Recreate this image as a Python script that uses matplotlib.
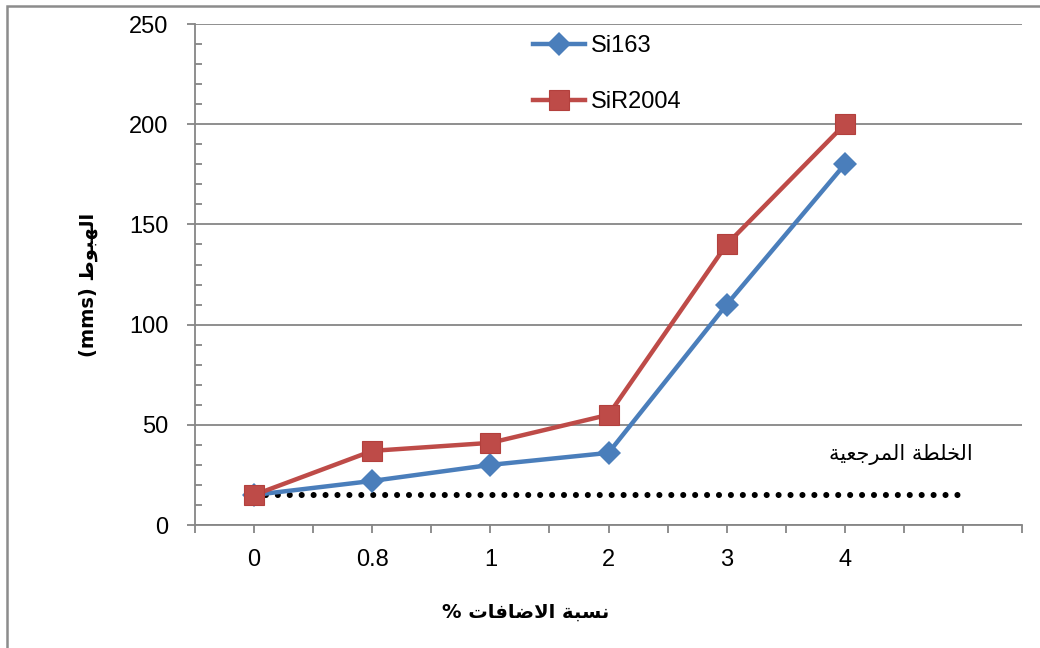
import matplotlib
matplotlib.use("Agg")
import matplotlib.pyplot as plt
from matplotlib.patches import Rectangle
from matplotlib.ticker import MultipleLocator, FixedLocator

# slump (mms) for each admixture percentage
categories = ['0', '0.8', '1', '2', '3', '4', '']
si163 = [15, 22, 30, 36, 110, 180]
sir2004 = [15, 37, 41, 55, 140, 200]
reference_mix = [15, 15, 15, 15, 15, 15, 15]

y_label_ar = 'الهبوط'
y_label_unit = '(mms)'
x_label_ar = 'نسبة الاضافات'
ref_label_ar = 'الخلطة المرجعية'

# arabic contextual forms: isolated, final, initial, medial
AR_FORMS = {
    'ا': ('\ufe8d', '\ufe8e', None, None),
    'ب': ('\ufe8f', '\ufe90', '\ufe91', '\ufe92'),
    'ة': ('\ufe93', '\ufe94', None, None),
    'ت': ('\ufe95', '\ufe96', '\ufe97', '\ufe98'),
    'ج': ('\ufe9d', '\ufe9e', '\ufe9f', '\ufea0'),
    'خ': ('\ufea5', '\ufea6', '\ufea7', '\ufea8'),
    'ر': ('\ufead', '\ufeae', None, None),
    'س': ('\ufeb1', '\ufeb2', '\ufeb3', '\ufeb4'),
    'ض': ('\ufebd', '\ufebe', '\ufebf', '\ufec0'),
    'ط': ('\ufec1', '\ufec2', '\ufec3', '\ufec4'),
    'ع': ('\ufec9', '\ufeca', '\ufecb', '\ufecc'),
    'ف': ('\ufed1', '\ufed2', '\ufed3', '\ufed4'),
    'ل': ('\ufedd', '\ufede', '\ufedf', '\ufee0'),
    'م': ('\ufee1', '\ufee2', '\ufee3', '\ufee4'),
    'ن': ('\ufee5', '\ufee6', '\ufee7', '\ufee8'),
    'ه': ('\ufee9', '\ufeea', '\ufeeb', '\ufeec'),
    'و': ('\ufeed', '\ufeee', None, None),
    'ي': ('\ufef1', '\ufef2', '\ufef3', '\ufef4'),
}


def shape_word(word):
    out = []
    i = 0
    prev_joins = False
    while i < len(word):
        ch = word[i]
        nxt = word[i + 1] if i + 1 < len(word) else None
        if ch == 'ل' and nxt == 'ا':
            out.append('\ufefc' if prev_joins else '\ufefb')
            prev_joins = False
            i += 2
            continue
        forms = AR_FORMS[ch]
        joins_next = forms[2] is not None and nxt in AR_FORMS
        if prev_joins and joins_next:
            g = forms[3]
        elif prev_joins:
            g = forms[1]
        elif joins_next:
            g = forms[2]
        else:
            g = forms[0]
        out.append(g)
        prev_joins = joins_next
        i += 1
    return ''.join(reversed(out))


def ar(text):
    return ' '.join(shape_word(w) for w in reversed(text.split()))


blue = '#4a7ebb'
red = '#be4b48'
gray = '#868686'

fig = plt.figure(figsize=(10.4, 6.48), dpi=100)
ax = fig.add_axes([0.1875, 0.1898, 0.7952, 0.7731])

x = list(range(len(categories)))
ax.plot(x, reference_mix, color='black', lw=4.4, linestyle=(0, (0.001, 1.95)),
        dash_capstyle='round', zorder=2)
ax.plot(x[:len(si163)], si163, color=blue, lw=3.2, marker='D', markersize=12,
        markeredgewidth=0, label='Si163', zorder=3)
ax.plot(x[:len(sir2004)], sir2004, color=red, lw=3.2, marker='s', markersize=14,
        markeredgecolor='#b3403d', markeredgewidth=0.8, label='SiR2004', zorder=4)

ax.set_xlim(-0.5, len(categories) - 0.5)
ax.set_ylim(0, 250)

ax.set_xticks(x)
ax.set_xticklabels(categories, fontsize=17, family='Liberation Sans')
ax.xaxis.set_minor_locator(FixedLocator([v - 0.5 for v in range(len(categories) + 1)]))
ax.tick_params(axis='x', which='both', direction='out', length=6, width=1.3,
               color=gray, pad=11)

ax.yaxis.set_major_locator(MultipleLocator(50))
ax.yaxis.set_minor_locator(MultipleLocator(10))
ax.tick_params(axis='y', which='major', direction='out', length=6, width=1.3,
               color=gray, pad=13, labelsize=17)
ax.tick_params(axis='y', which='minor', direction='in', length=5, width=1.3,
               color=gray)
for lab in ax.get_yticklabels():
    lab.set_family('Liberation Sans')

ax.grid(axis='y', which='major', color=gray, lw=1.3)
ax.set_axisbelow(True)
for side in ['top', 'right']:
    ax.spines[side].set_visible(False)
for side in ['left', 'bottom']:
    ax.spines[side].set_color(gray)
    ax.spines[side].set_linewidth(1.3)

ax.text(6.08, 35, ar(ref_label_ar), fontsize=15, family=['DejaVu Sans'],
        ha='right', va='center')

fig.text(88 / 1040, 1 - 285 / 648, y_label_unit + ' ' + ar(y_label_ar),
         rotation=90, ha='center', va='center', fontsize=14, fontweight='bold',
         family=['DejaVu Sans'])
fig.text(526 / 1040, 1 - 612 / 648, '% ' + ar(x_label_ar), ha='center',
         va='center', fontsize=14, fontweight='bold', family=['DejaVu Sans'])

fig.legend(loc='upper left', bbox_to_anchor=(533 / 1040, 1 - 35 / 648),
           frameon=False, prop={'family': 'Liberation Sans', 'size': 17},
           handlelength=2.2, handletextpad=0.25, labelspacing=1.45,
           borderaxespad=0, borderpad=0)

# outer chart border (top and left edges)
fig.add_artist(Rectangle((7 / 1040, -0.1), 1.2, 1.1 - 6 / 648,
                         transform=fig.transFigure, fill=False,
                         edgecolor='#8c8c8c', lw=1.8, clip_on=False))

fig.savefig('out.png', dpi=100)
